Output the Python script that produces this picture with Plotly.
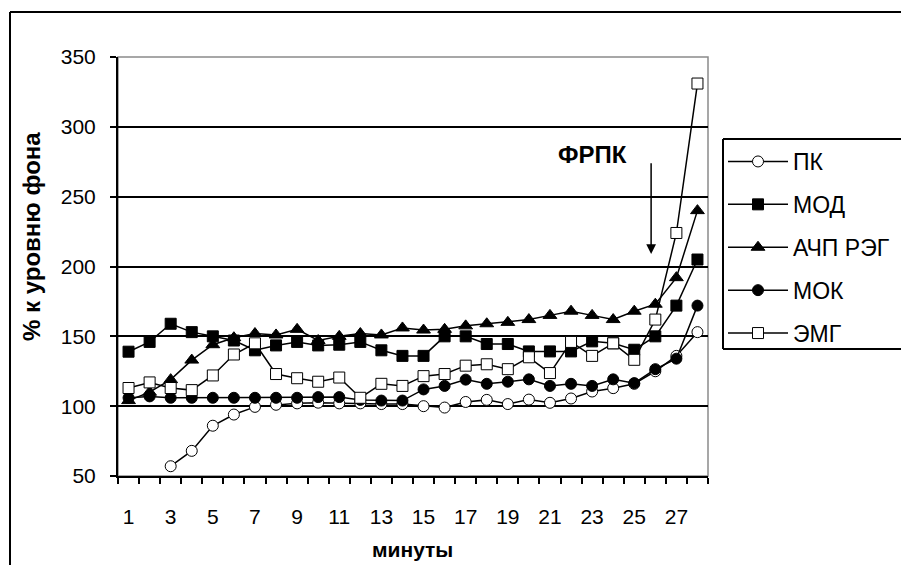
import plotly.graph_objects as go

minutes = list(range(1, 29))
x_tick_labels = [str(m) for m in range(1, 28, 2)]
y_ticks = [50, 100, 150, 200, 250, 300, 350]

pk = [None, None, 57, 68, 86, 94, 99.5, 101, 102, 102.5, 102, 102, 101.5, 101.5,
      100, 99, 103, 104.5, 101.5, 104.7, 102.4, 105.5, 110.5, 112.9, 116, 125, 136, 153]
mod = [139, 146, 159, 153, 150, 147, 140, 143.5, 146, 143.5, 144, 146, 140, 136,
       136, 150, 150, 144.5, 144.5, 139.2, 139.2, 139.2, 146.4, 145, 140.4, 150, 172, 205]
achp = [104, 110, 119, 133, 144, 149, 152, 151, 155, 147, 150, 152, 151, 156,
        154.5, 155, 157.5, 159, 160, 162, 165, 168, 165, 162, 168, 173, 192, 240]
mok = [106, 107, 106, 106, 106, 106, 106, 106, 106, 106.5, 106.5, 104.5, 104, 104,
       112, 114.5, 119, 116, 117.5, 119.2, 114.5, 116, 114.5, 119.2, 116.5, 126.5, 134, 172]
emg = [113, 117, 113, 111.5, 122, 137, 145, 123, 120, 117.5, 120.5, 106, 116, 114.5,
       121.5, 123, 129, 130, 126.5, 135, 123.7, 146, 136, 145, 133.2, 162, 224, 331]

series = [
    ("ПК", pk, "circle", "white"),
    ("МОД", mod, "square", "black"),
    ("АЧП РЭГ", achp, "triangle-up", "black"),
    ("МОК", mok, "circle", "black"),
    ("ЭМГ", emg, "square", "white"),
]

FONT = "Liberation Sans, Arial, sans-serif"

fig = go.Figure()
for i, (name, vals, sym, fill) in enumerate(series):
    fig.add_trace(go.Scatter(
        x=minutes, y=vals, name=name, mode="lines+markers",
        legendgroup=f"g{i}",
        line=dict(color="black", width=1.5),
        marker=dict(symbol=sym, size=12 if sym == "triangle-up" else 11,
                    color=fill, line=dict(color="black", width=1)),
        connectgaps=False,
    ))

# label axis (no ticks) overlaid on boundary-tick axis
fig.add_trace(go.Scatter(x=[None], y=[None], xaxis="x2", showlegend=False, hoverinfo="skip"))

W, H = 902, 565
L, R, T, B = 118, 194, 57, 89
pw, ph = W - L - R, H - T - B

def px2paper_x(px):
    return (px - L) / pw

def px2paper_y(py):
    return (H - B - py) / ph

fig.update_layout(
    width=W, height=H,
    margin=dict(l=L, r=R, t=T, b=B, pad=0, autoexpand=False),
    paper_bgcolor="white", plot_bgcolor="white",
    font=dict(family=FONT, size=21, color="black"),
    xaxis=dict(
        range=[0.5, 28.5], tickvals=[v + 0.5 for v in range(0, 29)],
        ticktext=[""] * 29, ticks="outside", ticklen=6, tickwidth=1.5, tickcolor="black",
        showline=True, linecolor="black", linewidth=2, showgrid=False, zeroline=False,
    ),
    xaxis2=dict(
        overlaying="x", side="bottom", range=[0.5, 28.5],
        tickvals=list(range(1, 28, 2)), ticktext=x_tick_labels, ticks="",
        showline=False, showgrid=False, zeroline=False, ticklabelstandoff=26,
        tickfont=dict(family=FONT, size=21, color="black"),
    ),
    yaxis=dict(
        range=[50, 350], tickvals=y_ticks, ticks="outside", ticklen=6, tickwidth=1.5,
        tickcolor="black", showline=True, linecolor="black", linewidth=2,
        showgrid=True, gridcolor="black", gridwidth=1.5, zeroline=False,
        ticklabelstandoff=10, tickfont=dict(family=FONT, size=21, color="black"),
    ),
    legend=dict(
        x=px2paper_x(723), y=px2paper_y(140), xanchor="left", yanchor="top",
        borderwidth=0, bgcolor="rgba(0,0,0,0)",
        font=dict(family=FONT, size=23, color="black"),
        tracegroupgap=10, itemwidth=60,
    ),
    showlegend=True,
)

shapes = [
    # plot area gray border (top/right)
    dict(type="rect", xref="paper", yref="paper", x0=0, x1=1, y0=0, y1=1,
         line=dict(color="#8a8a8a", width=1.5), layer="below"),
    # outer chart border: top and left edges (the rest lies outside the image)
    dict(type="line", xref="paper", yref="paper",
         x0=px2paper_x(10), x1=px2paper_x(901), y0=px2paper_y(12), y1=px2paper_y(12),
         line=dict(color="black", width=2), layer="below"),
    dict(type="line", xref="paper", yref="paper",
         x0=px2paper_x(10), x1=px2paper_x(10), y0=px2paper_y(12), y1=px2paper_y(565),
         line=dict(color="black", width=2), layer="below"),
    # legend frame: top, left, bottom (right edge lies outside the image)
    dict(type="line", xref="paper", yref="paper",
         x0=px2paper_x(723), x1=px2paper_x(901), y0=px2paper_y(139), y1=px2paper_y(139),
         line=dict(color="black", width=2), layer="below"),
    dict(type="line", xref="paper", yref="paper",
         x0=px2paper_x(723), x1=px2paper_x(723), y0=px2paper_y(139), y1=px2paper_y(349),
         line=dict(color="black", width=2), layer="below"),
    dict(type="line", xref="paper", yref="paper",
         x0=px2paper_x(723), x1=px2paper_x(901), y0=px2paper_y(349), y1=px2paper_y(349),
         line=dict(color="black", width=2), layer="below"),
]
fig.update_layout(shapes=shapes)

annotations = [
    dict(text="<b>% к уровню фона</b>", xref="paper", yref="paper",
         x=px2paper_x(31), y=px2paper_y(237), textangle=-90, showarrow=False,
         font=dict(family=FONT, size=24, color="black"), xanchor="center", yanchor="middle"),
    dict(text="<b>минуты</b>", xref="paper", yref="paper",
         x=px2paper_x(412), y=px2paper_y(549), showarrow=False,
         font=dict(family=FONT, size=21, color="black"), xanchor="center", yanchor="middle"),
    dict(text="<b>ФРПК</b>", xref="x", yref="y", x=23.0, y=280, showarrow=False,
         font=dict(family=FONT, size=24, color="black"), xanchor="center", yanchor="middle"),
    dict(text="", xref="x", yref="y", x=25.8, y=209, ax=25.8, ay=275,
         axref="x", ayref="y", showarrow=True, arrowhead=2, arrowsize=1.3,
         arrowwidth=1.5, arrowcolor="black"),
]
fig.update_layout(annotations=annotations)

fig.write_html("out.html")
